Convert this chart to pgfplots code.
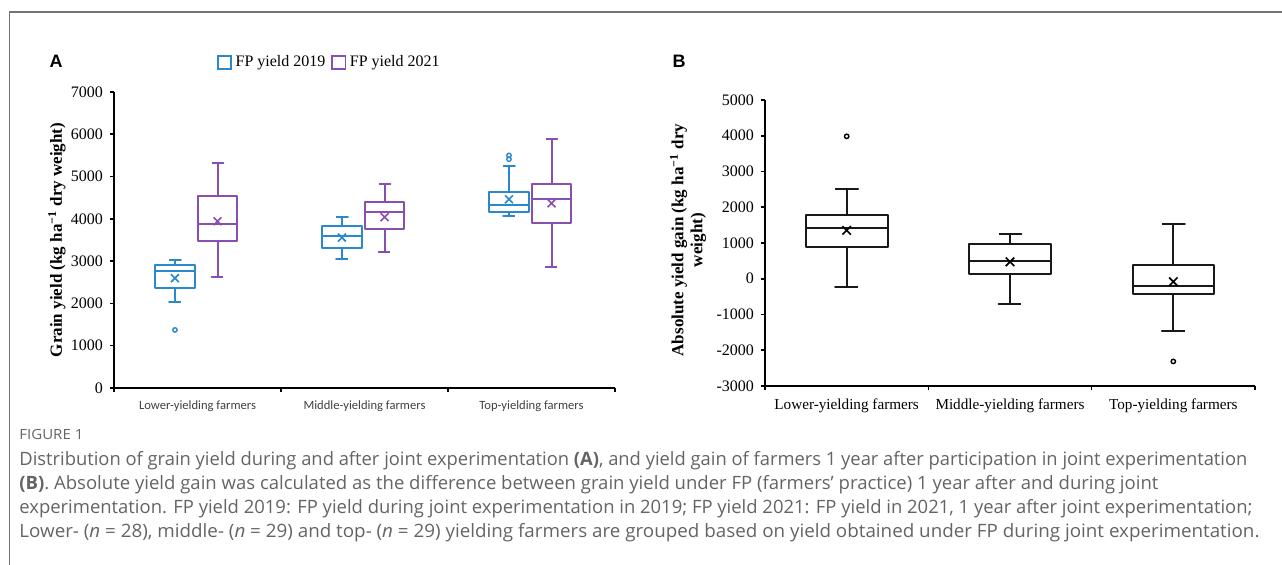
\documentclass[border=0pt]{standalone}
\usepackage{fontspec}
\usepackage{graphicx}
\setmainfont{Liberation Serif}
\newfontfamily\capfont{Open Sans}
\newfontfamily\calib{Carlito}
\newfontfamily\arialf{Liberation Sans}
\usepackage{pgfplots}
\pgfplotsset{compat=1.18}
\definecolor{blueC}{RGB}{41,137,204}
\definecolor{purpC}{RGB}{137,78,177}
\definecolor{capgray}{RGB}{100,100,100}
\pgfplotsset{bx/.style={line width=1pt, line join=round, unbounded coords=jump, mark=none}}
\begin{document}
\begin{tikzpicture}
\useasboundingbox (0,0) rectangle (641pt,282.5pt);
\draw[black!55, line width=0.7pt] (4.85pt,0) -- (4.85pt,276.4pt) -- (641pt,276.4pt);
\node[font=\arialf\bfseries\fontsize{9}{10}\selectfont] at (28pt,252pt) {A};
\node[font=\arialf\bfseries\fontsize{9}{10}\selectfont] at (339.5pt,252pt) {B};

% ---------- Panel A ----------
\begin{axis}[
 at={(57pt,88.5pt)}, anchor=south west, scale only axis,
 width=250.5pt, height=148pt,
 xmin=0, xmax=3, ymin=0, ymax=7000,
 axis lines=left, axis line style={-, line width=0.9pt},
 tick align=outside, major tick length=2pt,
 tick style={black, line width=0.8pt},
 ytick={0,1000,2000,3000,4000,5000,6000,7000},
 yticklabels={0,1000,2000,3000,4000,5000,6000,7000},
 yticklabel style={font=\fontsize{8}{9.6}\selectfont},
 xtick={0,1,2,3}, xticklabels={,,,},
 extra x ticks={0.5,1.5,2.5},
 extra x tick labels={Lower-yielding farmers, Middle-yielding farmers, Top-yielding farmers},
 extra x tick style={major tick length=0.01pt, xticklabel style={font=\calib\fontsize{6.3}{7.5}\selectfont, text=black!75, yshift=-3pt}},
 ylabel={Grain yield (kg ha\textsuperscript{−1} dry weight)},
 every axis y label/.style={at={(axis description cs:-0.114,0.5)}, rotate=90, anchor=center, font=\bfseries\fontsize{8.5}{10}\selectfont},
 clip=false,
 legend style={at={(axis description cs:0.432,1.1)}, anchor=center, draw=none, fill=none, legend columns=2, font=\fontsize{8}{9.6}\selectfont, /tikz/every even column/.append style={column sep=1pt}},
 legend image code/.code={\draw[#1, line width=0.7pt] (0cm,-0.115cm) rectangle (0.23cm,0.115cm);},
]
\addlegendimage{blueC}
\addlegendentry{FP yield 2019}
\addlegendimage{purpC}
\addlegendentry{FP yield 2021}
% blue 2019
\addplot[blueC, bx] coordinates {(0.33,3033) (0.40,3033) (0.365,3033) (0.365,2898) (0.2475,2898) (0.2475,2376) (0.4825,2376) (0.4825,2898) (0.365,2898) (nan,nan) (0.2475,2771) (0.4825,2771) (nan,nan) (0.365,2376) (0.365,2024) (0.33,2024) (0.40,2024)};
\addplot[blueC, bx] coordinates {(1.33,4048) (1.40,4048) (1.365,4048) (1.365,3834) (1.2475,3834) (1.2475,3313) (1.4825,3313) (1.4825,3834) (1.365,3834) (nan,nan) (1.2475,3589) (1.4825,3589) (nan,nan) (1.365,3313) (1.365,3045) (1.33,3045) (1.40,3045)};
\addplot[blueC, bx] coordinates {(2.33,5248) (2.40,5248) (2.365,5248) (2.365,4643) (2.2475,4643) (2.2475,4167) (2.4825,4167) (2.4825,4643) (2.365,4643) (nan,nan) (2.2475,4333) (2.4825,4333) (nan,nan) (2.365,4167) (2.365,4071) (2.33,4071) (2.40,4071)};
% purple 2021
\addplot[purpC, bx] coordinates {(0.585,5310) (0.655,5310) (0.62,5310) (0.62,4548) (0.5025,4548) (0.5025,3470) (0.7375,3470) (0.7375,4548) (0.62,4548) (nan,nan) (0.5025,3889) (0.7375,3889) (nan,nan) (0.62,3470) (0.62,2630) (0.585,2630) (0.655,2630)};
\addplot[purpC, bx] coordinates {(1.585,4826) (1.655,4826) (1.62,4826) (1.62,4390) (1.5025,4390) (1.5025,3748) (1.7375,3748) (1.7375,4390) (1.62,4390) (nan,nan) (1.5025,4167) (1.7375,4167) (nan,nan) (1.62,3748) (1.62,3227) (1.585,3227) (1.655,3227)};
\addplot[purpC, bx] coordinates {(2.585,5895) (2.655,5895) (2.62,5895) (2.62,4833) (2.5025,4833) (2.5025,3905) (2.7375,3905) (2.7375,4833) (2.62,4833) (nan,nan) (2.5025,4470) (2.7375,4470) (nan,nan) (2.62,3905) (2.62,2850) (2.585,2850) (2.655,2850)};
% means
\addplot[blueC, only marks, mark=x, mark size=2.8pt, mark options={line width=0.8pt}] coordinates {(0.365,2597) (1.365,3557) (2.365,4462)};
\addplot[purpC, only marks, mark=x, mark size=2.8pt, mark options={line width=0.8pt}] coordinates {(0.62,3943) (1.62,4040) (2.62,4367)};
% outliers
\addplot[blueC, only marks, mark=o, mark size=1.1pt, mark options={line width=0.7pt}] coordinates {(0.365,1373) (2.365,5410) (2.365,5500)};
\end{axis}

% ---------- Panel B ----------
\begin{axis}[
 at={(382.5pt,89.5pt)}, anchor=south west, scale only axis,
 width=245pt, height=143pt,
 xmin=0, xmax=3, ymin=-3000, ymax=5000,
 axis lines=left, axis line style={-, line width=0.9pt},
 tick align=outside, major tick length=2pt,
 tick style={black, line width=0.8pt},
 ytick={-3000,-2000,-1000,0,1000,2000,3000,4000,5000},
 yticklabels={-3000,-2000,-1000,0,1000,2000,3000,4000,5000},
 yticklabel style={font=\fontsize{8}{9.6}\selectfont},
 xtick={0,1,2,3}, xticklabels={,,,},
 extra x ticks={0.5,1.5,2.5},
 extra x tick labels={Lower-yielding farmers, Middle-yielding farmers, Top-yielding farmers},
 extra x tick style={major tick length=0.01pt, xticklabel style={font=\fontsize{7.6}{9}\selectfont, yshift=-3pt}},
 ylabel={Absolute yield gain (kg ha\textsuperscript{−1} dry\\weight)},
 every axis y label/.style={at={(axis description cs:-0.157,0.51)}, rotate=90, anchor=center, align=center, font=\bfseries\fontsize{8.5}{9.5}\selectfont},
 clip=false,
]
\addplot[black!90, bx] coordinates {(0.43,2505) (0.57,2505) (0.5,2505) (0.5,1790) (0.25,1790) (0.25,880) (0.75,880) (0.75,1790) (0.5,1790) (nan,nan) (0.25,1425) (0.75,1425) (nan,nan) (0.5,880) (0.5,-222) (0.43,-222) (0.57,-222)};
\addplot[black!90, bx] coordinates {(1.43,1240) (1.57,1240) (1.5,1240) (1.5,980) (1.25,980) (1.25,120) (1.75,120) (1.75,980) (1.5,980) (nan,nan) (1.25,500) (1.75,500) (nan,nan) (1.5,120) (1.5,-703) (1.43,-703) (1.57,-703)};
\addplot[black!90, bx] coordinates {(2.43,1519) (2.57,1519) (2.5,1519) (2.5,397) (2.25,397) (2.25,-417) (2.75,-417) (2.75,397) (2.5,397) (nan,nan) (2.25,-194) (2.75,-194) (nan,nan) (2.5,-417) (2.5,-1463) (2.43,-1463) (2.57,-1463)};
\addplot[black, only marks, mark=x, mark size=3pt, mark options={line width=0.8pt}] coordinates {(0.5,1353) (1.5,472) (2.5,-83)};
\addplot[black, only marks, mark=o, mark size=1.1pt, mark options={line width=0.7pt}] coordinates {(0.5,3983) (2.5,-2313)};
\end{axis}

% ---------- Caption ----------
\begin{scope}[every node/.style={anchor=base west, inner sep=0pt, text=capgray}]
\node[font=\capfont\fontsize{7}{8}\selectfont] at (9.5pt,62.5pt) {\resizebox{32pt}{\height}{FIGURE 1}};
\node[font=\capfont\fontsize{9.2}{11}\selectfont] at (9.5pt,49.5pt) {\resizebox{614pt}{\height}{Distribution of grain yield during and after joint experimentation \textbf{(A)}, and yield gain of farmers 1 year after participation in joint experimentation}};
\node[font=\capfont\fontsize{9.2}{11}\selectfont] at (9.5pt,37.5pt) {\resizebox{569.5pt}{\height}{\textbf{(B)}. Absolute yield gain was calculated as the difference between grain yield under FP (farmers’ practice) 1 year after and during joint}};
\node[font=\capfont\fontsize{9.2}{11}\selectfont] at (9.5pt,25.5pt) {\resizebox{616.5pt}{\height}{experimentation. FP yield 2019: FP yield during joint experimentation in 2019; FP yield 2021: FP yield in 2021, 1 year after joint experimentation;}};
\node[font=\capfont\fontsize{9.2}{11}\selectfont] at (9.5pt,13.5pt) {\resizebox{620pt}{\height}{Lower- (\textit{n} = 28), middle- (\textit{n} = 29) and top- (\textit{n} = 29) yielding farmers are grouped based on yield obtained under FP during joint experimentation.}};
\end{scope}
\end{tikzpicture}
\end{document}
